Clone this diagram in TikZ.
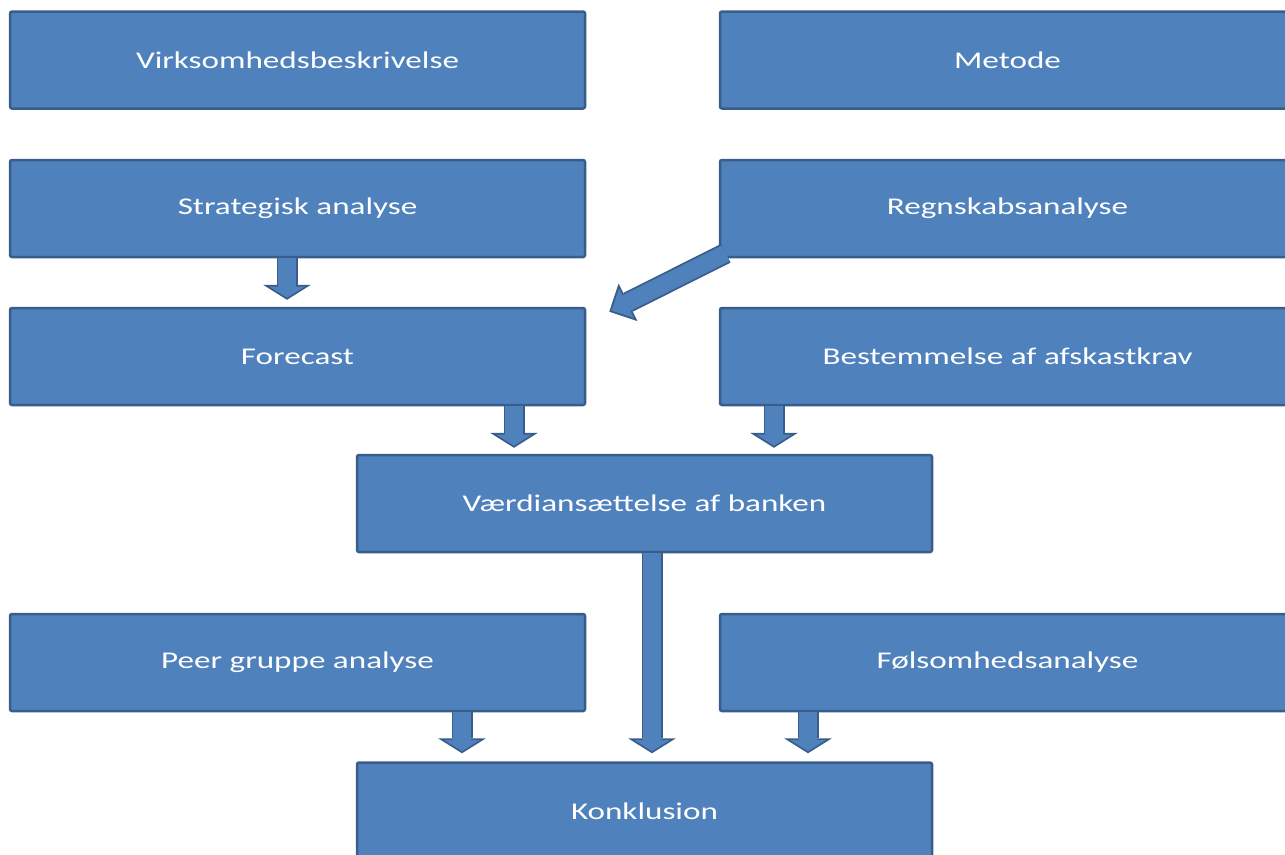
\documentclass[tikz,border=0pt]{standalone}
\usepackage{fontspec}
\usetikzlibrary{arrows.meta}
\newfontfamily\boxfont{Carlito}[FakeStretch=1.38]
\definecolor{boxblue}{HTML}{4F81BD}
\definecolor{boxline}{HTML}{385D8A}
\tikzset{
  stepbox/.style={rectangle, rounded corners=2pt, fill=boxblue, draw=boxline,
    line width=2.5pt, minimum width=575pt, minimum height=97pt, inner sep=0pt,
    text=white, font=\boxfont\fontsize{24}{27}\selectfont},
  flowout/.style={draw=boxline, line width=21pt,
    -{Triangle[width=48pt,length=15pt,line width=0pt]}},
  flowin/.style={draw=boxblue, line width=17.4pt, shorten >=2.1pt,
    -{Triangle[width=35.5pt,length=11.1pt,line width=0pt]}},
  slantout/.style={draw=boxline, line width=21pt,
    -{Triangle[width=42pt,length=21pt,line width=0pt]}},
  slantin/.style={draw=boxblue, line width=17.4pt, shorten >=2.6pt,
    -{Triangle[width=33pt,length=16.6pt,line width=0pt]}},
}
% block arrow: dark rim first, blue body on top
\newcommand{\flowarrow}[3][flow]{%
  \draw[#1out] #2 -- #3;
  \draw[#1in] #2 -- #3;
}
\begin{document}
\begin{tikzpicture}[x=1pt, y=-1pt]
    \clip (0,0) rectangle (1285,854);
    \node[stepbox] (virk)   at (297.5, 60)    {Virksomhedsbeskrivelse};
    \node[stepbox] (metode) at (1007.5, 60)   {Metode};
    \node[stepbox] (strat)  at (297.5, 208.5) {Strategisk analyse};
    \node[stepbox] (regn)   at (1007.5, 208.5){Regnskabsanalyse};
    \node[stepbox] (fore)   at (297.5, 356.5) {Forecast};
    \node[stepbox] (best)   at (1007.5, 356.5){Bestemmelse af afskastkrav};
    \node[stepbox] (vaerdi) at (644.5, 503.5) {Værdiansættelse af banken};
    \node[stepbox] (peer)   at (297.5, 662.5) {Peer gruppe analyse};
    \node[stepbox] (fols)   at (1007.5, 662.5){Følsomhedsanalyse};
    \node[stepbox] (konk)   at (644.5, 811)   {Konklusion};
    \flowarrow{([xshift=-10.5pt]strat.south)}{([xshift=-10.5pt,yshift=7pt]fore.north)}
    \flowarrow[slant]{([xshift=7pt,yshift=5pt]regn.south west)}{([xshift=23pt,yshift=-5pt]fore.north east)}
    \flowarrow{([xshift=216.5pt]fore.south)}{([xshift=-130.5pt,yshift=6pt]vaerdi.north)}
    \flowarrow{([xshift=-233.5pt]best.south)}{([xshift=129.5pt,yshift=6pt]vaerdi.north)}
    \flowarrow{([xshift=7.5pt]vaerdi.south)}{([xshift=7.5pt,yshift=8pt]konk.north)}
    \flowarrow{([xshift=164.5pt]peer.south)}{([xshift=-182.5pt,yshift=8pt]konk.north)}
    \flowarrow{([xshift=-199.5pt]fols.south)}{([xshift=163.5pt,yshift=8pt]konk.north)}
\end{tikzpicture}
\end{document}
